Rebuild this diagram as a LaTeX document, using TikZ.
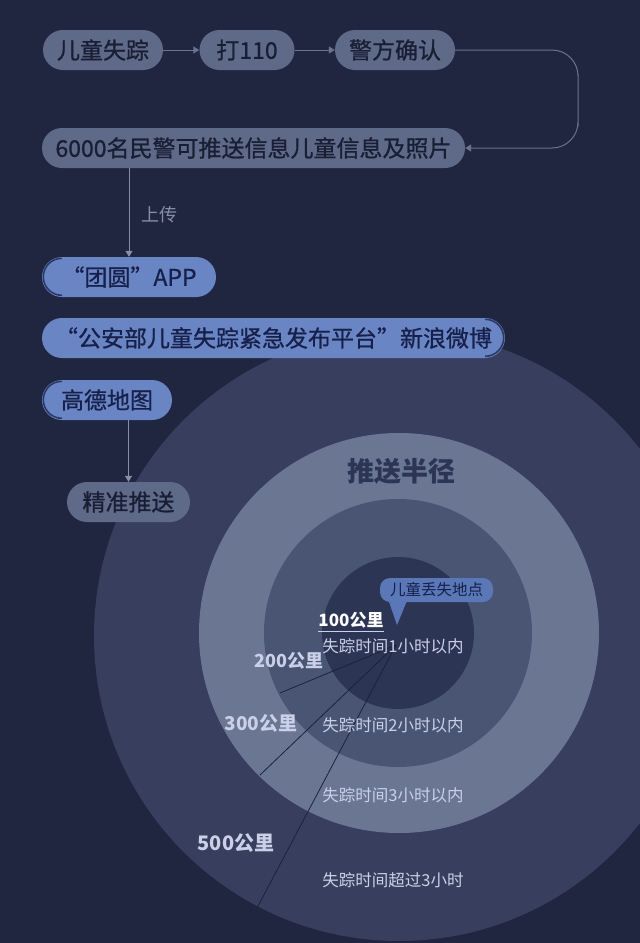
\documentclass[tikz,border=0pt]{standalone}
\usepackage{fontspec}
\setmainfont{Noto Sans CJK SC}
\newfontfamily\boxfont{Noto Sans CJK SC}[FakeBold=0.8]
\usetikzlibrary{arrows.meta,calc}

\definecolor{bg}{HTML}{20263F}
\definecolor{ringfour}{HTML}{383F5E}
\definecolor{ringthree}{HTML}{6B7693}
\definecolor{ringtwo}{HTML}{4A5574}
\definecolor{ringone}{HTML}{2D3554}
\definecolor{greybox}{HTML}{5F6A89}
\definecolor{bluebox}{HTML}{6A85C4}
\definecolor{darktext}{HTML}{181E33}
\definecolor{navytext}{HTML}{16204A}
\definecolor{flowline}{HTML}{69728F}
\definecolor{uplink}{HTML}{868FA9}
\definecolor{labeltext}{HTML}{C9D0E8}
\definecolor{spotblue}{HTML}{5A77B8}
\definecolor{radialline}{HTML}{1C223B}

\begin{document}
\begin{tikzpicture}[x=1pt,y=-1pt,
  greypill/.style={rounded corners=20pt, fill=greybox, minimum height=40pt,
    inner sep=0pt, font=\boxfont\fontsize{23}{23}\selectfont, text=darktext},
  bluepill/.style={greypill, fill=bluebox, text=navytext},
  flow/.style={draw=flowline, line width=1pt, -{Triangle[width=7pt,length=6pt]}},
  crescent/.style={draw=navytext!75!bluebox, line width=1.6pt},
  kmlabel/.style={font=\bfseries\fontsize{#1}{#1}\selectfont, text=labeltext},
  timelabel/.style={font=\fontsize{16.5}{16.5}\selectfont, text=labeltext},
  radial/.style={draw=radialline, line width=0.8pt}]

  \fill[bg] (0,0) rectangle (640,943);
  \useasboundingbox (0,0) rectangle (640,943);

  \begin{scope}
    \clip (0,0) rectangle (640,943);
    \fill[ringfour] (399,636) circle [radius=305];
    \fill[ringthree] (399,633) circle [radius=200];
    \fill[ringtwo] (398,633) circle [radius=134];
    \fill[ringone] (398,633) circle [radius=76];
  \end{scope}

  \coordinate (lost) at (396,645);
  \coordinate (edgetwo) at (280,693);
  \coordinate (edgethree) at (260,775);
  \coordinate (edgefive) at (257,908);
  \draw[radial] (lost) -- (edgetwo);
  \draw[radial] (lost) -- (edgethree);
  \draw[radial] (lost) -- (edgefive);

  \node[greypill, minimum width=120pt] (missing) at (103,50) {儿童失踪};
  \node[greypill, minimum width=95pt] (call) at (247,50) {打110};
  \node[greypill, minimum width=120pt] (confirm) at (395,50) {警方确认};
  \node[greypill, minimum width=423pt] (police) at (253.5,148) {6000名民警可推送信息儿童信息及照片};
  \node[bluepill, minimum width=174pt] (app) at (129,277) {“团圆”APP};
  \node[bluepill, minimum width=463pt] (weibo) at (273.5,338) {“公安部儿童失踪紧急发布平台”新浪微博};
  \node[bluepill, minimum width=130pt] (amap) at (107,400) {高德地图};
  \node[greypill, minimum width=123pt] (push) at (128.5,502) {精准推送};

  \draw[crescent] ($(app.north west)+(20,1.5)$) arc [start angle=270, end angle=90, radius=18.5];
  \draw[crescent] ($(amap.north west)+(20,1.5)$) arc [start angle=270, end angle=90, radius=18.5];
  \draw[crescent] ($(weibo.north east)+(-20,1.5)$) arc [start angle=270, end angle=450, radius=18.5];

  \draw[flow] (missing) -- (call);
  \draw[flow] (call) -- (confirm);
  \coordinate (bend) at (578,100);
  \draw[flow, rounded corners=26pt] (confirm.east) -| (bend) |- (police.east);
  \draw[flow, draw=uplink, line width=0.8pt] (app.north |- police.south) -- (app.north);
  \draw[flow, draw=uplink, line width=0.8pt] (push.north |- amap.south) -- (push.north);
  \node[text=uplink, font=\fontsize{18}{18}\selectfont] (upload) at (159,215) {上传};

  \node[font=\bfseries\fontsize{27}{27}\selectfont, text=ringone] (pushradius) at (401,471) {推送半径};

  \node[fill=spotblue, rounded corners=10pt, minimum width=113pt, minimum height=24pt,
    inner sep=0pt, text=navytext, font=\fontsize{15.5}{15.5}\selectfont] (spot) at (436.5,590) {儿童丢失地点};
  \coordinate (spottip) at (397,625);
  \fill[spotblue] ($(spot.south west)+(9,-1)$) -- (spottip) -- ($(spot.south west)+(27,-1)$) -- cycle;

  \node[kmlabel=17, text=white, inner xsep=0pt] (kmone) at (351,620) {100公里};
  \draw[draw=labeltext, line width=0.6pt] ($(kmone.base west)+(0,4.5)$) -- ($(kmone.base east)+(0,4.5)$);
  \node[timelabel] (hourone) at (393,646) {失踪时间1小时以内};
  \node[kmlabel=18] (kmtwo) at (289,661) {200公里};
  \node[kmlabel=19] (kmthree) at (261,723) {300公里};
  \node[timelabel] (hourtwo) at (393,725) {失踪时间2小时以内};
  \node[timelabel] (hourthree) at (393,795) {失踪时间3小时以内};
  \node[kmlabel=20] (kmfive) at (236,843) {500公里};
  \node[timelabel] (hourmore) at (393,880) {失踪时间超过3小时};
\end{tikzpicture}
\end{document}
